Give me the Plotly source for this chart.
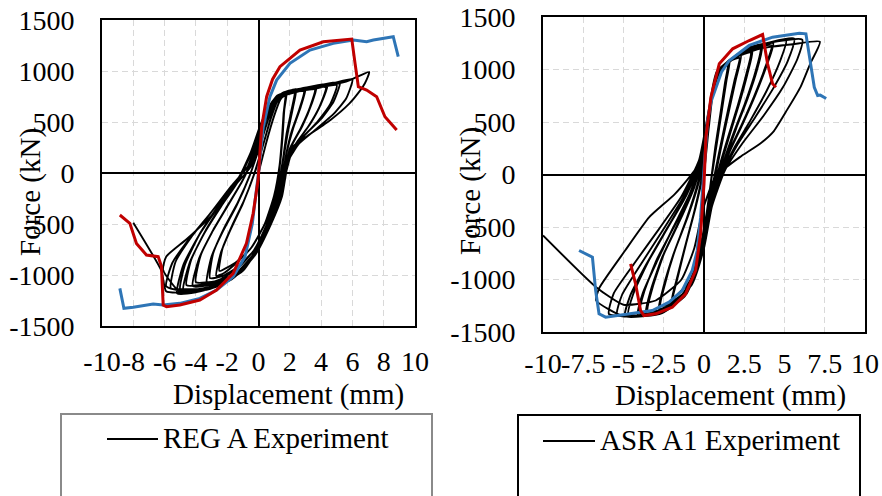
import plotly.graph_objects as go

W, H = 882, 496

# ---------------- REG A (left panel): (displacement mm, force kN) ----------------
reg_points = [
    (0.0, 0), (0.5, 300), (1.0, 560), (1.4, 720), (1.8, 790),
    (1.65, 620), (1.55, 380), (1.4, 120), (1.1, -180), (0.5, -470), (-0.4, -720), (-1.4, -880), (-2.2, -980), (-2.7, -1010),
    (-2.4, -780), (-1.8, -560), (-1.0, -300), (-0.3, -20), (0.3, 280), (0.8, 540), (1.2, 700), (1.7, 760),
    (1.6, 580), (1.5, 340), (1.35, 80), (1.0, -220), (0.4, -500), (-0.5, -740), (-1.4, -870), (-2.5, -960),
    (-2.3, -740), (-1.7, -520), (-0.9, -260), (-0.2, 20), (0.4, 330), (0.9, 600), (1.4, 760), (1.9, 800), (2.4, 820),
    (2.2, 640), (1.9, 420), (1.6, 150), (1.3, -150), (0.7, -450), (-0.2, -740), (-1.3, -930), (-2.4, -1040), (-3.3, -1080),
    (-3.0, -820), (-2.3, -580), (-1.4, -320), (-0.6, -40), (0.1, 270), (0.7, 560), (1.3, 730), (1.9, 780), (2.3, 790),
    (2.1, 610), (1.8, 390), (1.55, 120), (1.2, -180), (0.6, -480), (-0.3, -760), (-1.4, -930), (-2.3, -1010), (-3.1, -1030),
    (-2.9, -790), (-2.2, -540), (-1.3, -280), (-0.5, 0), (0.2, 320), (0.8, 610), (1.4, 770), (2.2, 810), (3.0, 830),
    (2.7, 650), (2.2, 430), (1.8, 200), (1.5, -80), (0.9, -400), (0.0, -730), (-1.2, -960), (-2.6, -1080), (-4.2, -1110),
    (-3.8, -840), (-3.0, -590), (-2.0, -330), (-1.0, -70), (-0.1, 250), (0.5, 550), (1.2, 740), (2.0, 790), (2.9, 800),
    (2.6, 620), (2.1, 400), (1.75, 170), (1.45, -110), (0.8, -430), (-0.1, -760), (-1.3, -980), (-2.7, -1060), (-4.0, -1070),
    (-3.7, -810), (-2.9, -560), (-1.9, -300), (-0.9, -40), (0.0, 280), (0.6, 580), (1.3, 760), (2.5, 820), (3.7, 845),
    (3.4, 680), (2.8, 460), (2.1, 260), (1.7, 20), (1.3, -230), (0.5, -560), (-0.6, -870), (-2.0, -1060), (-3.5, -1130), (-4.8, -1150),
    (-4.4, -880), (-3.5, -600), (-2.4, -330), (-1.3, -80), (-0.4, 220), (0.3, 530), (1.1, 740), (2.4, 800), (3.6, 820),
    (3.3, 650), (2.7, 440), (2.0, 240), (1.65, 0), (1.25, -260), (0.4, -590), (-0.7, -890), (-2.1, -1040), (-3.4, -1090), (-4.6, -1100),
    (-4.3, -850), (-3.4, -570), (-2.3, -300), (-1.2, -50), (-0.3, 250), (0.4, 560), (1.2, 760), (2.8, 830), (4.4, 870),
    (4.0, 680), (3.3, 480), (2.5, 310), (1.9, 120), (1.6, -100), (1.1, -360), (0.2, -680), (-1.0, -960), (-2.6, -1110), (-4.0, -1170), (-5.2, -1180),
    (-4.8, -900), (-3.8, -610), (-2.6, -340), (-1.4, -90), (-0.5, 200), (0.2, 500), (1.0, 720), (2.6, 800), (4.3, 840),
    (3.9, 650), (3.2, 460), (2.4, 290), (1.85, 90), (1.55, -130), (1.0, -390), (0.1, -700), (-1.1, -970), (-2.7, -1100), (-4.0, -1140), (-5.0, -1140),
    (-4.7, -900), (-3.8, -610), (-2.6, -330), (-1.4, -80), (-0.5, 180), (0.3, 520), (1.1, 740), (2.5, 820), (3.9, 860), (5.2, 890),
    (4.8, 700), (4.0, 530), (3.0, 380), (2.2, 230), (1.8, 30), (1.5, -230), (0.8, -500), (-0.2, -800), (-1.6, -1030), (-3.2, -1140), (-4.8, -1160), (-5.9, -1110),
    (-5.5, -880), (-4.4, -640), (-3.1, -400), (-1.9, -160), (-0.7, 60), (0.1, 400), (0.9, 680), (1.7, 780), (3.4, 820), (5.0, 860),
    (4.6, 680), (3.8, 510), (2.9, 360), (2.1, 210), (1.75, 10), (1.45, -250), (0.7, -530), (-0.3, -820), (-1.7, -1040), (-3.3, -1130), (-4.7, -1140), (-5.6, -1130),
    (-5.3, -870), (-4.3, -630), (-3.0, -380), (-1.8, -140), (-0.6, 80), (0.2, 420), (1.0, 700), (1.8, 800), (3.5, 840), (4.8, 880), (6.0, 920),
    (5.6, 730), (4.8, 580), (3.6, 420), (2.6, 290), (1.9, 120), (1.7, -60), (1.3, -300), (0.5, -560), (-0.4, -820), (-1.7, -1030), (-3.5, -1150), (-5.0, -1170), (-6.1, -950),
    (-5.9, -820), (-4.6, -650), (-2.9, -400), (-1.6, -140), (-0.5, 60), (0.0, 260), (0.5, 580), (1.0, 720), (1.6, 790), (2.9, 830), (4.1, 850), (5.6, 895), (7.07, 990),
    (6.8, 880), (6.5, 810), (5.8, 680), (4.6, 520), (3.1, 360), (2.2, 260), (1.8, 100), (1.7, 0), (1.4, -260), (0.5, -530), (-0.3, -790), (-1.6, -1010), (-2.7, -1110), (-4.5, -1170), (-5.9, -1160), (-6.2, -960), (-8.0, -487),
]

reg_blue_disp = [-8.86, -8.6, -8.0, -7.3, -6.73, -6.09, -5.03, -3.75, -2.68, -1.62, -0.86, -0.4, 0.0,
                 0.3, 0.73, 1.16, 2.01, 3.29, 4.78, 6.06, 6.91, 7.34, 8.0, 8.61, 8.93]
reg_blue_force = [-1131, -1327, -1317, -1300, -1284, -1294, -1278, -1229, -1147, -1016, -820, -500, 0,
                  450, 748, 911, 1075, 1205, 1271, 1303, 1287, 1303, 1320, 1336, 1140]

reg_red_disp = [-8.86, -8.22, -7.80, -7.16, -6.41, -6.2, -6.09, -5.88, -5.03, -3.75, -2.68, -1.62, -0.77,
                -0.34, -0.02, 0.05, 0.2, 0.52, 0.9, 1.37, 2.65, 4.14, 5.41, 5.96, 6.17, 6.38, 6.91,
                7.55, 8.08, 8.83]
reg_red_force = [-412, -493, -690, -804, -820, -918, -1294, -1310, -1294, -1245, -1147, -984, -690,
                 -395, -62, 100, 450, 748, 920, 1042, 1205, 1287, 1310, 1313, 1075, 846, 813,
                 748, 552, 421]

# ---------------- ASR A1 (right panel): (displacement mm, force kN) ----------------
asr_points = [
    (0.0, 0), (0.2, 300), (0.5, 750), (0.9, 980), (1.6, 1090),
    (1.4, 900), (1.1, 600), (0.8, 300), (0.5, 0), (0.2, -350), (-0.2, -700), (-0.8, -1000), (-1.4, -1150), (-2.0, -1200),
    (-1.7, -1000), (-1.2, -700), (-0.6, -350), (-0.1, 0), (0.25, 420), (0.55, 780), (1.0, 990), (1.5, 1060),
    (1.3, 870), (1.0, 560), (0.7, 260), (0.45, -40), (0.15, -380), (-0.3, -730), (-0.9, -1020), (-1.9, -1170),
    (-1.6, -960), (-1.1, -650), (-0.5, -300), (0.0, 50), (0.3, 450), (0.6, 820), (1.2, 1040), (2.3, 1140),
    (2.0, 920), (1.6, 640), (1.2, 360), (0.8, 60), (0.4, -280), (0.0, -620), (-0.5, -940), (-1.4, -1180), (-2.8, -1280),
    (-2.5, -1060), (-1.9, -760), (-1.1, -430), (-0.4, -90), (0.15, 320), (0.45, 740), (0.9, 980), (1.6, 1080), (2.2, 1110),
    (1.9, 900), (1.5, 620), (1.1, 330), (0.7, 30), (0.3, -310), (-0.1, -650), (-0.6, -960), (-1.5, -1180), (-2.7, -1250),
    (-2.4, -1030), (-1.8, -720), (-1.0, -400), (-0.3, -60), (0.2, 350), (0.5, 780), (1.0, 1000), (1.8, 1100), (3.0, 1180),
    (2.7, 960), (2.2, 680), (1.6, 380), (1.1, 120), (0.6, -200), (0.1, -560), (-0.4, -900), (-1.2, -1160), (-2.4, -1290), (-3.6, -1320),
    (-3.3, -1100), (-2.6, -790), (-1.6, -460), (-0.7, -140), (0.05, 250), (0.4, 680), (0.9, 960), (1.9, 1110), (2.9, 1160),
    (2.6, 940), (2.1, 660), (1.5, 360), (1.0, 100), (0.5, -220), (0.0, -580), (-0.5, -920), (-1.3, -1170), (-2.4, -1280), (-3.5, -1300),
    (-3.2, -1080), (-2.5, -760), (-1.5, -440), (-0.6, -120), (0.1, 280), (0.4, 700), (0.9, 980), (2.0, 1130), (3.6, 1220),
    (3.3, 1000), (2.7, 720), (2.0, 440), (1.4, 180), (0.8, -120), (0.2, -480), (-0.3, -840), (-1.1, -1140), (-2.5, -1310), (-4.1, -1340),
    (-3.8, -1130), (-2.9, -820), (-1.9, -500), (-0.9, -190), (-0.05, 200), (0.35, 630), (0.85, 940), (2.1, 1140), (3.5, 1200),
    (3.2, 980), (2.6, 700), (1.9, 420), (1.3, 160), (0.7, -140), (0.1, -500), (-0.4, -860), (-1.2, -1150), (-2.6, -1310), (-4.0, -1320),
    (-3.7, -1110), (-2.9, -800), (-1.8, -480), (-0.8, -170), (0.0, 220), (0.4, 650), (0.9, 960), (2.2, 1150), (4.3, 1250),
    (3.9, 1040), (3.2, 760), (2.4, 480), (1.6, 220), (0.9, -60), (0.3, -420), (-0.2, -780), (-1.0, -1110), (-2.6, -1320), (-4.9, -1350),
    (-4.6, -1160), (-3.6, -860), (-2.4, -540), (-1.2, -220), (-0.15, 160), (0.3, 600), (0.8, 940), (2.3, 1160), (4.2, 1230),
    (3.8, 1020), (3.1, 740), (2.3, 460), (1.5, 200), (0.8, -80), (0.2, -440), (-0.3, -800), (-1.1, -1120), (-2.7, -1320), (-4.7, -1330),
    (-4.4, -1140), (-3.5, -840), (-2.3, -520), (-1.1, -200), (-0.1, 170), (0.35, 620), (0.8, 950), (2.4, 1170), (5.1, 1280),
    (4.7, 1070), (3.9, 800), (2.9, 520), (1.9, 260), (1.0, -20), (0.3, -380), (-0.2, -760), (-1.0, -1100), (-2.8, -1330), (-5.4, -1340),
    (-5.1, -1150), (-3.9, -850), (-2.6, -540), (-1.3, -220), (-0.2, 150), (0.3, 600), (0.8, 960), (2.6, 1190), (5.6, 1295),
    (5.2, 1080), (4.3, 820), (3.2, 550), (2.1, 290), (1.2, 20), (0.4, -330), (-0.1, -720), (-0.9, -1080), (-2.8, -1320), (-5.9, -1330),
    (-5.6, -1130), (-4.3, -840), (-2.8, -520), (-1.4, -210), (-0.3, 140), (0.3, 620), (0.8, 980), (2.8, 1210), (6.1, 1285),
    (5.8, 1100), (4.9, 830), (3.7, 560), (2.4, 300), (1.3, 40), (0.5, -300), (0.0, -700), (-0.8, -1060), (-2.8, -1300), (-5.0, -1350), (-6.7, -1200),
    (-6.5, -1080), (-4.9, -724), (-3.4, -406), (-1.8, -184), (-0.3, 102), (0.3, 500), (0.7, 900), (1.5, 1080), (3.5, 1200), (5.5, 1240), (7.2, 1264),
    (6.6, 1057), (6.0, 835), (5.15, 613), (4.3, 406), (3.5, 295), (2.25, 168), (1.43, 73), (0.6, -54), (-0.1, -350), (-0.6, -700), (-1.4, -1000), (-3.0, -1200), (-5.0, -1240), (-6.7, -1073), (-10.0, -580),
]

asr_blue_disp = [-7.76, -7.14, -6.93, -6.73, -6.52, -6.11, -4.66, -3.21, -2.17, -1.35, -0.73, -0.42, -0.21,
                 0.0, 0.22, 0.45, 0.75, 1.1, 1.57, 2.81, 4.26, 5.92, 6.33, 6.54, 6.85, 7.06, 7.22, 7.59]
asr_blue_force = [-724, -771, -787, -1105, -1327, -1359, -1327, -1295, -1216, -1105, -914, -724, -406,
                  70, 514, 700, 831, 980, 1086, 1229, 1308, 1346, 1340, 1150, 831, 752, 756, 724]

asr_red_disp = [-4.56, -4.25, -3.94, -3.73, -3.0, -1.97, -1.14, -0.52, -0.21, 0.0, 0.12, 0.43, 0.95,
                1.78, 2.81, 3.64, 3.95, 4.26, 4.47]
asr_red_force = [-851, -1041, -1295, -1343, -1327, -1264, -1136, -914, -565, -89, 355, 736, 1054,
                 1197, 1276, 1333, 1054, 864, 831]

# ---------------- ticks ----------------
x_tickvals_left = [-10, -8, -6, -4, -2, 0, 2, 4, 6, 8, 10]
x_ticktext_left = ["-10", "-8", "-6", "-4", "-2", "0", "2", "4", "6", "8", "10"]
x_tickvals_right = [-10, -7.5, -5, -2.5, 0, 2.5, 5, 7.5, 10]
x_ticktext_right = ["-10", "-7.5", "-5", "-2.5", "0", "2.5", "5", "7.5", "10"]
y_tickvals = [-1500, -1000, -500, 0, 500, 1000, 1500]
y_ticktext = ["-1500", "-1000", "-500", "0", "500", "1000", "1500"]

reg_disp = [p[0] for p in reg_points]
reg_force = [p[1] for p in reg_points]
asr_disp = [p[0] for p in asr_points]
asr_force = [p[1] for p in asr_points]

FONT = "Liberation Serif, Times New Roman, serif"
FS = 28
FS_T = 29
BLUE = "#2E75B6"
RED = "#C00000"


def px(x):
    return x / W


def py(y):
    return 1 - y / H


fig = go.Figure()

black_line = dict(color="black", width=1.9, shape="spline", smoothing=0.5)
fig.add_trace(go.Scatter(x=reg_disp, y=reg_force, mode="lines", name="REG A Experiment",
                         line=black_line, xaxis="x", yaxis="y"))
fig.add_trace(go.Scatter(x=reg_blue_disp, y=reg_blue_force, mode="lines",
                         line=dict(color=BLUE, width=3), xaxis="x", yaxis="y"))
fig.add_trace(go.Scatter(x=reg_red_disp, y=reg_red_force, mode="lines",
                         line=dict(color=RED, width=3), xaxis="x", yaxis="y"))

fig.add_trace(go.Scatter(x=asr_disp, y=asr_force, mode="lines", name="ASR A1 Experiment",
                         line=black_line, xaxis="x2", yaxis="y2"))
fig.add_trace(go.Scatter(x=asr_blue_disp, y=asr_blue_force, mode="lines",
                         line=dict(color=BLUE, width=3), xaxis="x2", yaxis="y2"))
fig.add_trace(go.Scatter(x=asr_red_disp, y=asr_red_force, mode="lines",
                         line=dict(color=RED, width=3), xaxis="x2", yaxis="y2"))

common_axis = dict(
    showgrid=True, gridcolor="#d9d9d9", gridwidth=1.3, griddash="6px,4px",
    zeroline=True, zerolinecolor="black", zerolinewidth=1.6,
    showline=True, mirror=True, linecolor="black", linewidth=1.8,
    ticks="", tickfont=dict(family=FONT, size=FS, color="black"),
    tickangle=0, fixedrange=True, automargin=False,
)

fig.update_layout(
    template="none",
    width=W, height=H,
    margin=dict(l=0, r=0, t=0, b=0, autoexpand=False),
    paper_bgcolor="white", plot_bgcolor="white",
    showlegend=False,
    font=dict(family=FONT, size=FS, color="black"),
    xaxis=dict(domain=[px(102), px(415)], range=[-10, 10], anchor="y",
               tickmode="array", tickvals=x_tickvals_left, ticktext=x_ticktext_left,
               ticklabelstandoff=9, **common_axis),
    yaxis=dict(domain=[py(326), py(20)], range=[-1500, 1500], anchor="x",
               tickmode="array", tickvals=y_tickvals, ticktext=y_ticktext,
               ticklabelstandoff=20, **common_axis),
    xaxis2=dict(domain=[px(543), px(865)], range=[-10, 10], anchor="y2",
                tickmode="array", tickvals=x_tickvals_right, ticktext=x_ticktext_right,
                ticklabelstandoff=5, **common_axis),
    yaxis2=dict(domain=[py(332), py(17)], range=[-1500, 1500], anchor="x2",
                tickmode="array", tickvals=y_tickvals, ticktext=y_ticktext,
                ticklabelstandoff=20, **common_axis),
)

annots = [
    dict(text="Displacement (mm)", x=px(288), y=py(394)),
    dict(text="Displacement (mm)", x=px(730), y=py(395)),
    dict(text="Force (kN)", x=px(30), y=py(192), textangle=-90),
    dict(text="Force (kN)", x=px(471), y=py(191), textangle=-90),
]
for a in annots:
    fig.add_annotation(xref="paper", yref="paper", showarrow=False,
                       xanchor="center", yanchor="middle",
                       font=dict(family=FONT, size=FS_T, color="black"), **a)

# legend boxes
fig.add_shape(type="rect", xref="paper", yref="paper",
              x0=px(61), x1=px(432), y0=py(414), y1=py(530),
              line=dict(color="#8a8a8a", width=2), fillcolor="rgba(0,0,0,0)")
fig.add_shape(type="rect", xref="paper", yref="paper",
              x0=px(518), x1=px(860), y0=py(415), y1=py(530),
              line=dict(color="black", width=2), fillcolor="rgba(0,0,0,0)")
fig.add_shape(type="line", xref="paper", yref="paper",
              x0=px(107), x1=px(158), y0=py(439), y1=py(439),
              line=dict(color="black", width=2))
fig.add_shape(type="line", xref="paper", yref="paper",
              x0=px(543), x1=px(595), y0=py(441), y1=py(441),
              line=dict(color="black", width=2))
fig.add_annotation(xref="paper", yref="paper", showarrow=False, xanchor="left", yanchor="middle",
                   x=px(161), y=py(438), text="REG A Experiment",
                   font=dict(family=FONT, size=FS_T, color="black"))
fig.add_annotation(xref="paper", yref="paper", showarrow=False, xanchor="left", yanchor="middle",
                   x=px(598), y=py(440), text="ASR A1 Experiment",
                   font=dict(family=FONT, size=FS_T, color="black"))

fig.write_html("out.html")
